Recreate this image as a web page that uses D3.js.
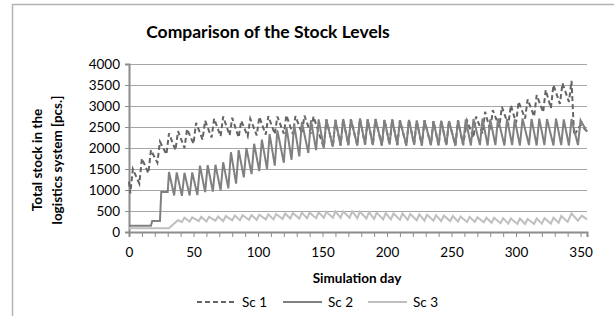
<!DOCTYPE html>
<html>
<head>
<meta charset="utf-8">
<script src="https://d3js.org/d3.v7.min.js"></script>
<style>
  body { margin: 0; background: #fff; }
  text { font-family: Lato, "Open Sans", sans-serif; fill: #000; }
</style>
</head>
<body>
<div id="chart"></div>
<script>
// stock levels, [day, pcs]
var sc1 = [
  [0,1200],[1,920],[3,1500],[8,1150],[10,1750],[15,1400],[17,1950],[22,1650],
  [24,2150],[29,1850],[31,2350],[36,1950],[38,2400],[43,2000],[45,2450],[50,2100],
  [52,2600],[57,2200],[59,2650],[64,2250],[66,2700],[71,2280],[73,2750],[78,2300],
  [80,2720],[85,2250],[87,2650],[92,2280],[94,2700],[99,2300],[101,2740],[106,2320],
  [108,2760],[113,2330],[115,2750],[120,2340],[122,2780],[127,2330],[129,2760],[134,2350],
  [136,2770],[141,2340],[143,2750],[148,2280],[151,2010],
  [153,2680],[158,2030],[160,2670],[164,2060],[166,2690],[170,2070],[172,2680],[177,2060],
  [179,2700],[183,2080],[185,2680],[189,2070],[191,2690],[196,2060],[198,2670],[202,2080],
  [204,2680],[208,2070],[210,2660],[215,2060],[217,2670],[221,2080],[223,2650],[227,2060],
  [229,2660],[234,2070],[236,2640],[240,2060],[242,2650],[246,2070],[248,2640],[253,2060],
  [255,2660],[259,2070],[262,2650],[267,2250],[269,2750],[274,2350],
  [276,2860],[280,2420],[282,2900],[287,2500],[289,2980],[294,2550],[296,3020],[300,2600],
  [302,3100],[307,2700],[309,3160],[314,2750],[316,3260],[321,2850],[323,3380],[327,2950],
  [329,3500],[334,3050],[336,3540],[341,3100],[343,3600],[345,2300],[350,2550],[355,2400]
];
var sc2 = [
  [0,150],[17,150],[18,260],[24,260],[25,950],[30,950],
  [31,1430],[35,870],[37,1420],[41,860],[43,1410],[47,870],[49,1420],[53,880],
  [55,1580],[59,950],[61,1590],[65,960],[67,1600],[71,990],[73,1660],[77,1040],
  [79,1900],[83,1150],[85,1950],[89,1300],[91,2000],[95,1380],[97,2100],[101,1450],
  [103,2200],[107,1500],[109,2330],[113,1580],[115,2420],[120,1650],[122,2500],[126,1720],
  [128,2560],[132,1800],[134,2620],[139,1880],[141,2660],[145,1950],[147,2680],[151,2000],
  [153,2680],[158,2030],[160,2670],[164,2060],[166,2690],[170,2070],[172,2680],[177,2060],
  [179,2700],[183,2080],[185,2680],[189,2070],[191,2690],[196,2060],[198,2670],[202,2080],
  [204,2680],[208,2070],[210,2660],[215,2060],[217,2670],[221,2080],[223,2650],[227,2060],
  [229,2660],[234,2070],[236,2640],[240,2060],[242,2650],[246,2070],[248,2640],[253,2060],
  [255,2660],[259,2070],[261,2680],[265,2060],[267,2690],[272,2070],[274,2700],[278,2060],
  [280,2680],[284,2070],[286,2700],[291,2060],[293,2690],[297,2070],[299,2680],[303,2060],
  [305,2700],[310,2070],[312,2690],[316,2060],[318,2700],[322,2070],[324,2690],[329,2060],
  [331,2700],[335,2070],[337,2680],[341,2060],[343,2690],[348,2070],[350,2660],[355,2390]
];
var sc3 = [
  [0,90],[31,90],[35,200],[38,280],[41,240],[43,340],[47,250],[49,350],[54,260],[56,360],
  [60,250],[62,360],[67,270],[69,370],[73,260],[75,380],[80,280],[82,390],[86,280],[88,400],
  [93,290],[95,400],[99,290],[101,410],[106,300],[108,420],[112,300],[114,430],[119,310],[121,440],
  [125,320],[127,450],[132,320],[134,460],[138,330],[140,460],[145,330],[147,470],[151,340],[153,480],
  [158,340],[160,490],[164,340],[166,490],[171,340],[173,490],[177,330],[179,480],[184,320],[186,470],
  [190,310],[192,460],[197,300],[199,450],[203,300],[205,440],[210,290],[212,440],[216,290],[218,430],
  [223,280],[225,420],[229,270],[231,410],[236,270],[238,400],[242,260],[244,390],[249,260],[251,380],
  [255,250],[257,370],[262,240],[264,360],[268,240],[270,350],[275,230],[277,340],[281,220],[283,340],
  [288,210],[290,330],[294,200],[296,320],[301,190],[303,320],[307,190],[309,310],[314,190],[316,320],
  [320,200],[322,330],[327,200],[329,340],[333,220],[335,380],[340,240],[343,440],[348,270],[351,390],
  [355,300]
];
var seriesNames = ["Sc 1", "Sc 2", "Sc 3"];
var yTicks = [0, 500, 1000, 1500, 2000, 2500, 3000, 3500, 4000];
var xTicks = [0, 50, 100, 150, 200, 250, 300, 350];

var W = 614, H = 316;
var margin = {top: 64, right: 27, bottom: 84, left: 129};
var width = W - margin.left - margin.right,
    height = H - margin.top - margin.bottom;

var svg = d3.select("#chart").append("svg")
    .attr("width", W)
    .attr("height", H);

// chart frame
svg.append("rect")
    .attr("x", 12.5).attr("y", 4.5)
    .attr("width", 700).attr("height", 400)
    .attr("fill", "none")
    .attr("stroke", "#b3b3b3")
    .attr("stroke-width", 1.5);

svg.append("text")
    .attr("x", 268).attr("y", 38)
    .attr("text-anchor", "middle")
    .attr("font-size", 17.5)
    .attr("font-weight", "bold")
    .text("Comparison of the Stock Levels");

var g = svg.append("g")
    .attr("transform", "translate(" + margin.left + "," + margin.top + ")");

var x = d3.scaleLinear().domain([0, 355]).range([0, width]);
var y = d3.scaleLinear().domain([0, 4000]).range([height, 0]);

// gridlines
g.append("g").selectAll("line")
  .data(yTicks.slice(1)).enter()
  .append("line")
    .attr("x1", 0).attr("x2", width)
    .attr("y1", function(d){ return Math.round(y(d)) + 0.5; })
    .attr("y2", function(d){ return Math.round(y(d)) + 0.5; })
    .attr("stroke", "#a6a6a6")
    .attr("stroke-width", 1);

// y axis
var yAxis = g.append("g")
    .call(d3.axisLeft(y).tickValues(yTicks).tickSize(4).tickPadding(5).tickFormat(d3.format("d")));
yAxis.select(".domain").attr("stroke", "#8c8c8c").attr("stroke-width", 2);
yAxis.selectAll(".tick line").attr("stroke", "#8c8c8c");
yAxis.selectAll("text").attr("font-size", 13.5).attr("font-family", "Lato");

// x axis: minor ticks every 10 days, labels every 50
var xAxis = g.append("g")
    .attr("transform", "translate(0," + height + ")")
    .call(d3.axisBottom(x).tickValues(d3.range(0, 351, 10)).tickSize(5).tickPadding(10)
      .tickFormat(function(d){ return xTicks.indexOf(d) >= 0 ? d : ""; }));
xAxis.select(".domain").attr("stroke", "#8c8c8c").attr("stroke-width", 2);
xAxis.selectAll(".tick line").attr("stroke", "#8c8c8c");
xAxis.selectAll("text").attr("font-size", 13.5).attr("font-family", "Lato");

var line = d3.line()
    .x(function(d){ return x(d[0]); })
    .y(function(d){ return y(d[1]); });

var styles = [
  {color: "#646464", dash: "5,3"},
  {color: "#808080", dash: null},
  {color: "#bfbfbf", dash: null}
];

[sc1, sc2, sc3].forEach(function(s, i){
  g.append("path")
    .datum(s)
    .attr("d", line)
    .attr("fill", "none")
    .attr("stroke", styles[i].color)
    .attr("stroke-width", 2)
    .attr("stroke-dasharray", styles[i].dash);
});

// axis titles
svg.append("text")
    .attr("x", 357).attr("y", 283)
    .attr("text-anchor", "middle")
    .attr("font-size", 13.5)
    .attr("font-weight", "bold")
    .text("Simulation day");

var yl = svg.append("text")
    .attr("transform", "translate(42,160) rotate(-90)")
    .attr("text-anchor", "middle")
    .attr("font-size", 13.5)
    .attr("font-weight", "bold");
yl.append("tspan").attr("x", 0).attr("dy", 0).text("Total stock in the");
yl.append("tspan").attr("x", 0).attr("dy", 20).text("logistics system [pcs.]");

// legend
var legendX = [197, 283, 368];
var lg = svg.append("g").selectAll("g")
  .data(seriesNames).enter()
  .append("g")
    .attr("transform", function(d, i){ return "translate(" + legendX[i] + ",302)"; });
lg.append("line")
    .attr("x1", 0).attr("x2", 39)
    .attr("stroke", function(d, i){ return styles[i].color; })
    .attr("stroke-width", 2)
    .attr("stroke-dasharray", function(d, i){ return styles[i].dash; });
lg.append("text")
    .attr("x", 45).attr("y", 5)
    .attr("font-size", 13.5)
    .text(function(d){ return d; });
</script>
</body>
</html>
